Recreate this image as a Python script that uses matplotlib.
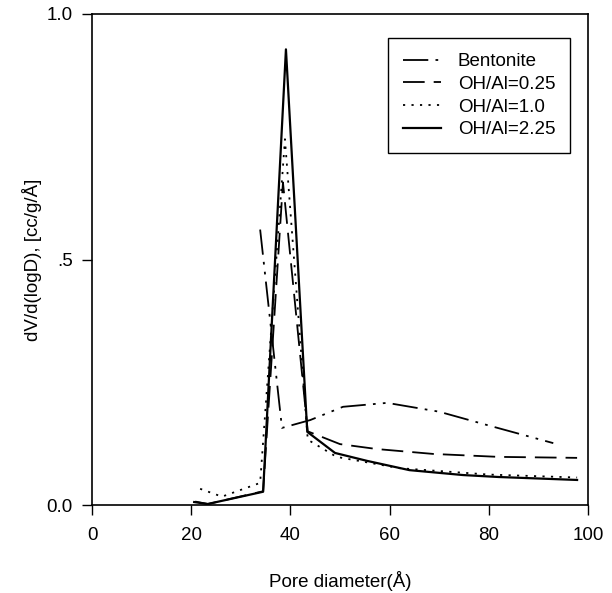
import matplotlib
matplotlib.use("Agg")
import matplotlib.pyplot as plt

plt.rcParams['font.family'] = ['Liberation Sans', 'DejaVu Sans']

# Data
bent_x = [33.9, 38.3, 44.0, 50.6, 59.5, 70.0, 79.6, 93.0]
bent_y = [0.561, 0.157, 0.173, 0.200, 0.208, 0.190, 0.163, 0.126]

oh025_x = [20.8, 23.4, 34.5, 38.5, 43.5, 50.0, 57.4, 68.8, 82.0, 97.8]
oh025_y = [0.007, 0.002, 0.028, 0.657, 0.150, 0.124, 0.114, 0.104, 0.098, 0.096]

oh10_x = [21.8, 26.2, 33.9, 38.9, 43.5, 49.3, 62.0, 80.0, 97.8]
oh10_y = [0.033, 0.017, 0.045, 0.745, 0.133, 0.098, 0.075, 0.062, 0.056]

oh225_x = [20.6, 23.3, 34.5, 39.1, 43.4, 49.0, 55.4, 64.0, 74.8, 82.0, 97.8]
oh225_y = [0.006, 0.002, 0.027, 0.928, 0.149, 0.106, 0.090, 0.071, 0.061, 0.057, 0.051]

labels = ['Bentonite', 'OH/Al=0.25', 'OH/Al=1.0', 'OH/Al=2.25']
xticks = [0, 20, 40, 60, 80, 100]
yticks = [0.0, 0.5, 1.0]
ytick_labels = ['0.0', '.5', '1.0']

FS = 13.5

fig = plt.figure(figsize=(6.12, 5.93), dpi=100)
ax = fig.add_axes([92/612, 88/593, 496/612, 491/593])

ax.plot(bent_x, bent_y, color='black', lw=1.3, dashes=(14, 4, 1.5, 4, 1.5, 4), label=labels[0])
ax.plot(oh025_x, oh025_y, color='black', lw=1.3, dashes=(12, 5), label=labels[1])
ax.plot(oh10_x, oh10_y, color='black', lw=1.3, dashes=(1.2, 3.5), label=labels[2])
ax.plot(oh225_x, oh225_y, color='black', lw=1.6, label=labels[3])

ax.set_xlim(0, 100)
ax.set_ylim(0, 1.0)
ax.set_xticks(xticks)
ax.set_xticklabels([str(t) for t in xticks])
ax.set_yticks(yticks)
ax.set_yticklabels(ytick_labels)
ax.tick_params(direction='out', length=7, width=1, labelsize=FS)
ax.tick_params(axis='y', pad=7)
ax.tick_params(axis='x', pad=9)
for s in ax.spines.values():
    s.set_linewidth(1.2)

ax.set_xlabel('Pore diameter(Å)', fontsize=FS, labelpad=19)
ax.set_ylabel('dV/d(logD), [cc/g/Å]', fontsize=FS, labelpad=3)

leg = ax.legend(loc='upper right', bbox_to_anchor=(0.964, 0.951), borderaxespad=0,
                fontsize=FS, frameon=True, fancybox=False, edgecolor='black',
                framealpha=1, handlelength=2.0, handletextpad=0.9,
                borderpad=0.8, labelspacing=0.3)
leg.get_frame().set_linewidth(1.0)

fig.savefig('out.png', dpi=100)
